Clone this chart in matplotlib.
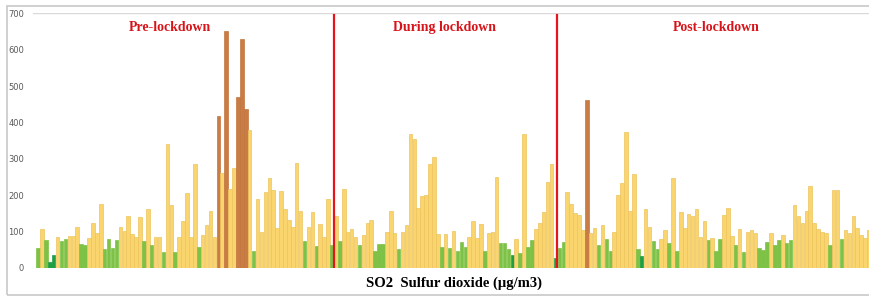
import numpy as np
import matplotlib.pyplot as plt
from matplotlib.patches import Rectangle

# daily SO2 (µg/m3)
so2 = [55, 107, 78, 16, 36, 86, 74, 80, 88, 88,
       113, 66, 62, 83, 124, 96, 175, 53, 80, 54,
       77, 113, 103, 144, 94, 86, 141, 75, 162, 63,
       84, 84, 43, 342, 172, 44, 85, 130, 206, 86,
       286, 57, 91, 119, 157, 85, 419, 261, 651, 217,
       274, 471, 628, 436, 379, 48, 189, 99, 209, 247,
       215, 110, 212, 162, 133, 113, 288, 158, 73, 112,
       153, 61, 122, 85, 190, 64,
       # during lockdown
       144, 73, 218, 99, 108, 85, 64, 91, 125, 133,
       48, 65, 65, 99, 156, 96, 52, 99, 119, 368,
       354, 164, 199, 201, 286, 305, 93, 59, 93, 56,
       103, 48, 72, 59, 85, 128, 82, 121, 48, 96,
       99, 249, 69, 70, 52, 35, 81, 42, 368, 57,
       76, 108, 125, 153, 235, 286, 27,
       # post lockdown
       54, 71, 209, 177, 151, 146, 105, 462, 96, 110,
       64, 119, 80, 46, 98, 201, 234, 373, 158, 259,
       52, 34, 163, 113, 74, 52, 81, 105, 70, 247,
       48, 153, 109, 148, 144, 162, 85, 130, 78, 82,
       46, 80, 145, 165, 87, 64, 108, 43, 99, 105,
       96, 55, 50, 71, 96, 62, 78, 91, 68, 78,
       174, 142, 125, 157, 226, 125, 108, 100, 96, 62,
       213, 213, 80, 105, 96, 142, 110, 91, 82, 105]

# AQI bands for SO2
band_limits = [40, 80, 380, 800]
band_colors = ['#1E9F45', '#7DC246', '#FAD46C', '#C97C43']
band_edges = ['#1E9F45', '#7DC246', '#EDC35E', '#C2763F']

periods = ['Pre-lockdown', 'During lockdown', 'Post-lockdown']
period_starts = [76, 133]   # first day of the next period
yticks = [0, 100, 200, 300, 400, 500, 600, 700]

vals = np.array(so2)
band = np.searchsorted(band_limits, vals)
x = np.arange(len(vals))

fig = plt.figure(figsize=(8.69, 2.98), dpi=100)
ax = fig.add_axes([0.038, 0.1007, 0.962, 0.8547])

ax.bar(x, vals, width=0.9,
       color=[band_colors[b] for b in band],
       edgecolor=[band_edges[b] for b in band], linewidth=0.5)

ax.axhline(700, color='#D9D9D9', lw=1, zorder=0)
for s in period_starts:
    ax.plot([s - 0.5, s - 0.5], [0, 695], color='#E8141B', lw=1.6)

label_x = [33.7, 103.6, 173]
for name, lx in zip(periods, label_x):
    ax.text(lx, 662, name, color='#D7141A', fontsize=10, fontweight='bold',
            family='Liberation Serif', ha='center', va='center')

ax.set_xlim(-1.28, 212.0)
ax.set_ylim(0, 700)
ax.set_yticks(yticks)
ax.set_xticks([])
ax.tick_params(axis='y', length=0, pad=6.5, labelsize=6, labelcolor='#595959')
for sp in ax.spines.values():
    sp.set_visible(False)

fig.text(454 / 869, 1 - 283 / 298, 'SO2  Sulfur dioxide (µg/m3)',
         fontsize=10.5, fontweight='bold', family='Liberation Serif',
         ha='center', va='center')

fig.patches.append(Rectangle((7 / 869, 3 / 298), 1.0, 0.97,
                             transform=fig.transFigure, fill=False,
                             ec='#C8C8C8', lw=1.2))

fig.savefig('out.png', dpi=100)
